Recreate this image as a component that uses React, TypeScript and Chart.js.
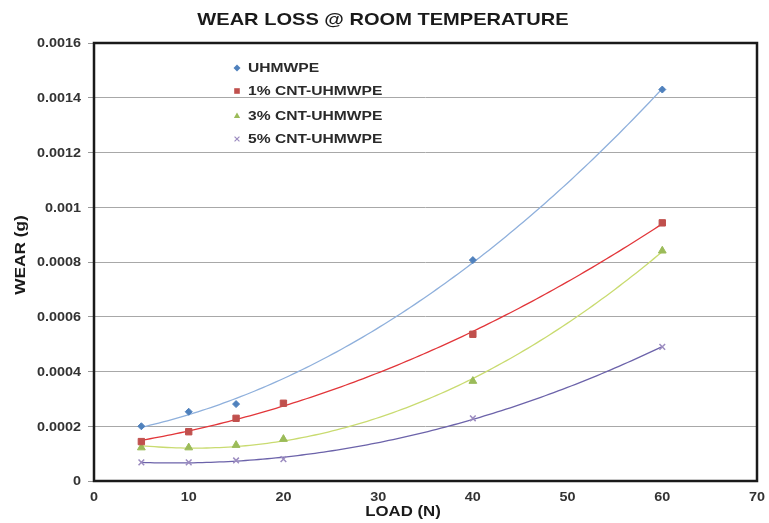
import React, { useEffect, useRef } from "react";
import { Chart, registerables } from "chart.js";

Chart.register(...registerables);

const loads = [5, 10, 15, 20, 40, 60];
const seriesNames = ["UHMWPE", "1% CNT-UHMWPE", "3% CNT-UHMWPE", "5% CNT-UHMWPE"];
const uhmwpe = [0.0002, 0.000253, 0.000281, null, 0.000807, 0.00143];
const cnt1 = [0.000144, 0.00018, 0.000229, 0.000284, 0.000536, 0.000943];
const cnt3 = [0.000122, 0.000122, 0.000131, 0.000153, 0.000365, 0.000841];
const cnt5 = [0.000068, 0.000068, 0.000075, 0.00008, 0.000229, 0.00049];
const yTicks = [0, 0.0002, 0.0004, 0.0006, 0.0008, 0.001, 0.0012, 0.0014, 0.0016];
const xTicks = [0, 10, 20, 30, 40, 50, 60, 70];

const markerColors = ["#4f81bd", "#c0504d", "#9bbb59", "#9c8cc0"];
const markerStyles = ["rectRot", "rect", "triangle", "crossRot"];
const markerRadius = [3.5, 4.5, 4.5, 4];
const trendColors = ["#8fb0dc", "#e2363a", "#c9db70", "#6c63aa"];

const FONT = "Arial, 'Liberation Sans', sans-serif";
const STRETCH = 1.2;

function quadFit(xs: number[], ys: (number | null)[]) {
  const px: number[] = [];
  const py: number[] = [];
  xs.forEach((x, i) => {
    const y = ys[i];
    if (y !== null && y !== undefined) {
      px.push(x);
      py.push(y);
    }
  });
  let s0 = 0, s1 = 0, s2 = 0, s3 = 0, s4 = 0, t0 = 0, t1 = 0, t2 = 0;
  for (let i = 0; i < px.length; i++) {
    const x = px[i], y = py[i];
    s0 += 1; s1 += x; s2 += x * x; s3 += x * x * x; s4 += x * x * x * x;
    t0 += y; t1 += x * y; t2 += x * x * y;
  }
  const M = [
    [s4, s3, s2, t2],
    [s3, s2, s1, t1],
    [s2, s1, s0, t0],
  ];
  for (let c = 0; c < 3; c++) {
    let p = c;
    for (let r = c + 1; r < 3; r++) if (Math.abs(M[r][c]) > Math.abs(M[p][c])) p = r;
    [M[c], M[p]] = [M[p], M[c]];
    for (let r = 0; r < 3; r++) {
      if (r === c) continue;
      const f = M[r][c] / M[c][c];
      for (let k = c; k < 4; k++) M[r][k] -= f * M[c][k];
    }
  }
  const a = M[0][3] / M[0][0];
  const b = M[1][3] / M[1][1];
  const c = M[2][3] / M[2][2];
  return { a, b, c, min: Math.min(...px), max: Math.max(...px) };
}

function drawMarker(ctx: CanvasRenderingContext2D, style: string, x: number, y: number, r: number, color: string) {
  ctx.save();
  ctx.fillStyle = color;
  ctx.strokeStyle = color;
  ctx.lineWidth = 1.2;
  ctx.beginPath();
  if (style === "rectRot") {
    ctx.moveTo(x, y - r); ctx.lineTo(x + r, y); ctx.lineTo(x, y + r); ctx.lineTo(x - r, y); ctx.closePath(); ctx.fill();
  } else if (style === "rect") {
    ctx.rect(x - r * 0.8, y - r * 0.8, r * 1.6, r * 1.6); ctx.fill();
  } else if (style === "triangle") {
    ctx.moveTo(x, y - r); ctx.lineTo(x + r * 0.9, y + r * 0.6); ctx.lineTo(x - r * 0.9, y + r * 0.6); ctx.closePath(); ctx.fill();
  } else {
    ctx.moveTo(x - r * 0.7, y - r * 0.7); ctx.lineTo(x + r * 0.7, y + r * 0.7);
    ctx.moveTo(x + r * 0.7, y - r * 0.7); ctx.lineTo(x - r * 0.7, y + r * 0.7); ctx.stroke();
  }
  ctx.restore();
}

// draws text horizontally stretched (the reference is slightly wide)
function stretchText(ctx: CanvasRenderingContext2D, text: string, x: number, y: number, align: "left" | "center" | "right", sx = STRETCH) {
  ctx.save();
  ctx.translate(x, y);
  ctx.scale(sx, 1);
  ctx.textAlign = align;
  ctx.textBaseline = "middle";
  ctx.fillText(text, 0, 0);
  ctx.restore();
}

const fmt = (v: number) => String(parseFloat(Number(v).toFixed(4)));

const decorPlugin = {
  id: "decor",
  beforeDatasetsDraw(chart: any) {
    const ctx = chart.ctx as CanvasRenderingContext2D;
    const xs = chart.scales.x;
    const ys = chart.scales.y;
    chart.data.datasets.forEach((ds: any, i: number) => {
      const vals = ds.data.map((p: any) => (p ? p.y : null));
      const xv = ds.data.map((p: any) => (p ? p.x : 0));
      const fit = quadFit(xv, vals);
      ctx.save();
      ctx.strokeStyle = trendColors[i];
      ctx.lineWidth = 1.3;
      ctx.beginPath();
      const steps = 120;
      for (let s = 0; s <= steps; s++) {
        const x = fit.min + ((fit.max - fit.min) * s) / steps;
        const y = fit.a * x * x + fit.b * x + fit.c;
        const px = xs.getPixelForValue(x);
        const py = ys.getPixelForValue(y);
        if (s === 0) ctx.moveTo(px, py); else ctx.lineTo(px, py);
      }
      ctx.stroke();
      ctx.restore();
    });
  },
  afterDraw(chart: any) {
    const ctx = chart.ctx as CanvasRenderingContext2D;
    const a = chart.chartArea;
    const xs = chart.scales.x;
    const ys = chart.scales.y;
    ctx.save();
    // plot border
    ctx.strokeStyle = "#1a1a1a";
    ctx.lineWidth = 2.5;
    ctx.strokeRect(a.left, a.top, a.right - a.left, a.bottom - a.top);
    // tick labels
    ctx.fillStyle = "#333";
    ctx.font = `bold 12px ${FONT}`;
    yTicks.forEach((v) => {
      stretchText(ctx, fmt(v), 81, ys.getPixelForValue(v) + 1, "right");
    });
    xTicks.forEach((v) => {
      stretchText(ctx, String(v), xs.getPixelForValue(v), 498, "center");
    });
    // title
    ctx.fillStyle = "#1a1a1a";
    ctx.font = `bold 17px ${FONT}`;
    stretchText(ctx, "WEAR LOSS @ ROOM TEMPERATURE", 383, 20, "center", 1.18);
    // axis titles
    ctx.font = `bold 14px ${FONT}`;
    stretchText(ctx, "LOAD (N)", 403, 512, "center");
    ctx.save();
    ctx.translate(21, 255);
    ctx.rotate(-Math.PI / 2);
    ctx.font = `bold 15px ${FONT}`;
    stretchText(ctx, "WEAR (g)", 0, 0, "center", 1.15);
    ctx.restore();
    // legend
    ctx.font = `bold 13px ${FONT}`;
    const legendY = [68, 91, 116, 139];
    seriesNames.forEach((name, i) => {
      drawMarker(ctx, markerStyles[i], 237, legendY[i], 3.5, markerColors[i]);
      ctx.fillStyle = "#2a2a2a";
      stretchText(ctx, name, 248, legendY[i] + 0.5, "left");
    });
    ctx.restore();
  },
};

export default function App() {
  const ref = useRef<HTMLCanvasElement>(null);
  useEffect(() => {
    if (!ref.current) return;
    const all = [uhmwpe, cnt1, cnt3, cnt5];
    const datasets = all.map((vals, i) => ({
      label: seriesNames[i],
      data: loads
        .map((x, j) => (vals[j] === null ? null : { x, y: vals[j] as number }))
        .filter((p) => p !== null),
      showLine: false,
      pointStyle: markerStyles[i],
      pointRadius: markerRadius[i],
      pointBackgroundColor: markerColors[i],
      pointBorderColor: markerColors[i],
      pointBorderWidth: i === 3 ? 1.5 : 1,
    }));
    const chart = new Chart(ref.current, {
      type: "scatter",
      data: { datasets },
      plugins: [decorPlugin],
      options: {
        animation: false,
        responsive: false,
        maintainAspectRatio: false,
        layout: { padding: { left: 0, right: 12, top: 43, bottom: 0 } },
        plugins: { legend: { display: false }, title: { display: false }, tooltip: { enabled: false } },
        scales: {
          x: {
            type: "linear",
            min: 0,
            max: 70,
            afterBuildTicks: (s: any) => { s.ticks = xTicks.map((v) => ({ value: v })); },
            afterFit: (s: any) => { s.height = 42; },
            grid: { display: false, drawTicks: false },
            border: { display: false },
            ticks: { color: "rgba(0,0,0,0)", font: { size: 11 }, maxRotation: 0 },
          },
          y: {
            type: "linear",
            min: 0,
            max: 0.0016,
            afterBuildTicks: (s: any) => { s.ticks = yTicks.map((v) => ({ value: v })); },
            afterFit: (s: any) => { s.width = 94; },
            grid: { color: "#a8a8a8", lineWidth: 1, tickLength: 6, tickColor: "#999" },
            border: { display: false },
            ticks: { color: "rgba(0,0,0,0)", font: { size: 11 }, callback: (v: any) => fmt(v) },
          },
        },
      } as any,
    });
    return () => chart.destroy();
  }, []);
  return (
    <div style={{ position: "fixed", left: 0, top: 0, width: 769, height: 523, background: "#fff" }}>
      <canvas ref={ref} width={769} height={523} style={{ width: 769, height: 523 }} />
    </div>
  );
}
